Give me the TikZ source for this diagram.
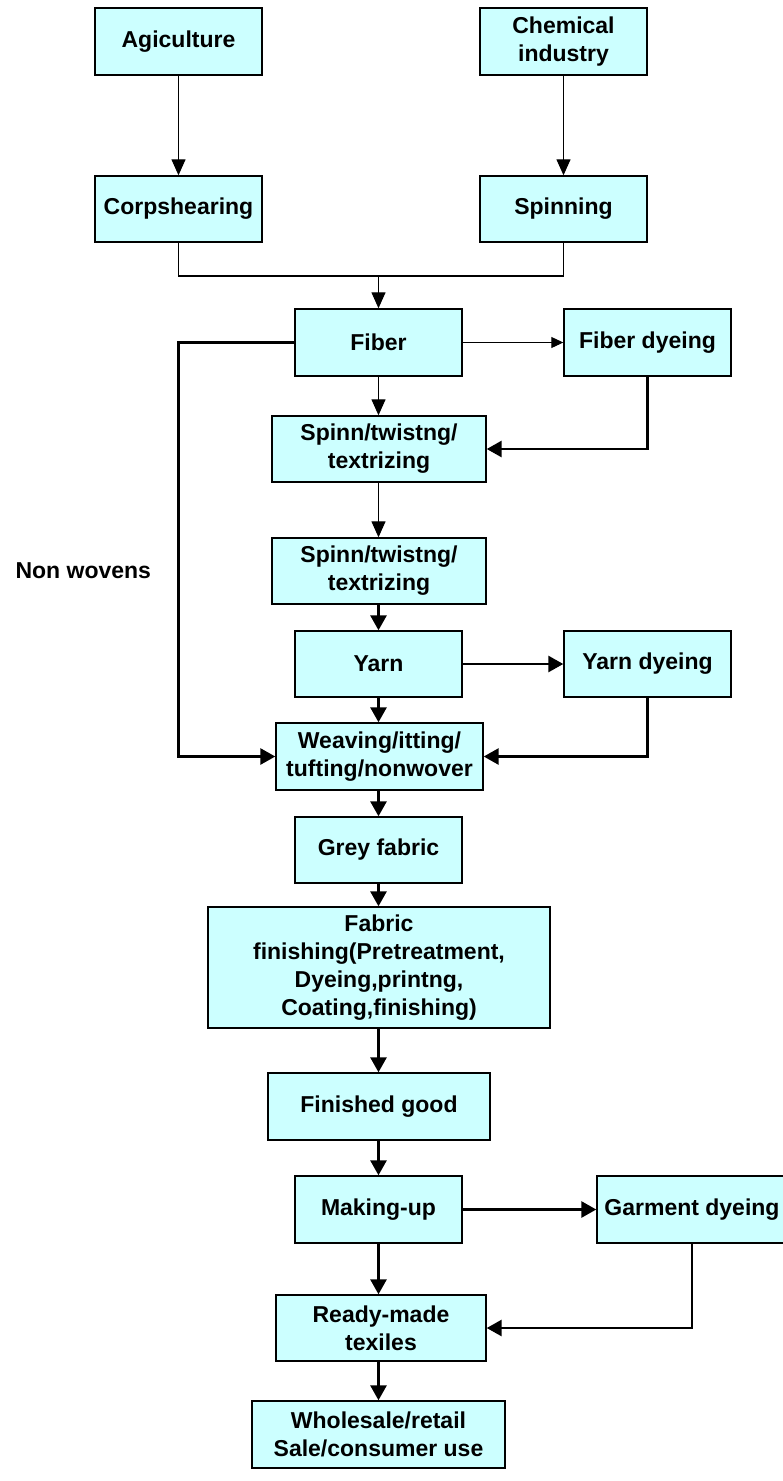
\documentclass[tikz,border=0pt]{standalone}
\usepackage{fontspec}
\setmainfont{Liberation Sans}
\usetikzlibrary{arrows.meta}
\definecolor{boxfill}{HTML}{CCFFFF}
\begin{document}
\begin{tikzpicture}[x=1pt,y=-1pt,
  box/.style={draw=black, line width=1.4pt, fill=boxfill, inner sep=0pt, align=center,
    font=\fontsize{23}{28}\selectfont\bfseries},
  lab/.style={font=\fontsize{23}{28}\selectfont\bfseries},
  thinln/.style={line width=1.3pt},
  thinarr/.style={line width=1.3pt, -{Triangle[length=16pt,width=14pt]}},
  smallarr/.style={line width=1pt, -{Triangle[length=12pt,width=11pt]}},
  thickln/.style={line width=2.8pt},
  thickarr/.style={line width=2.8pt, -{Triangle[length=15pt,width=16pt]}}
]
\useasboundingbox (0,0) rectangle (783,1481);

\node[box, minimum width=167pt, minimum height=67pt] (agri) at (178.5,41.5) {Agiculture};
\node[box, minimum width=167pt, minimum height=67pt] (chem) at (563.5,41.5) {Chemical\\industry};
\node[box, minimum width=167pt, minimum height=66pt] (corp) at (178.5,209) {Corpshearing};
\node[box, minimum width=167pt, minimum height=66pt] (spin) at (563.5,209) {Spinning};
\node[box, minimum width=167pt, minimum height=67pt] (fiber) at (378.5,342.5) {Fiber};
\node[box, minimum width=167pt, minimum height=67pt] (fdye) at (647.5,342.5) {Fiber dyeing};
\node[box, minimum width=214pt, minimum height=66pt] (spa) at (379,449) {Spinn/twistng/\\textrizing};
\node[box, minimum width=214pt, minimum height=66pt] (spb) at (379,571) {Spinn/twistng/\\textrizing};
\node[box, minimum width=167pt, minimum height=66pt] (yarn) at (378.5,664) {Yarn};
\node[box, minimum width=167pt, minimum height=66pt] (ydye) at (647.5,664) {Yarn dyeing};
\node[box, minimum width=207pt, minimum height=67pt] (weav) at (379.5,756.5) {Weaving/itting/\\tufting/nonwover};
\node[box, minimum width=167pt, minimum height=66pt] (grey) at (378.5,850) {Grey fabric};
\node[box, minimum width=342pt, minimum height=121pt] (ffin) at (379,967.5) {Fabric\\finishing(Pretreatment,\\Dyeing,printng,\\Coating,finishing)};
\node[box, minimum width=222pt, minimum height=67pt] (fgood) at (379,1106.5) {Finished good};
\node[box, minimum width=167pt, minimum height=67pt] (make) at (378.5,1209.5) {Making-up};
\node[box, minimum width=190pt, minimum height=67pt] (gdye) at (692,1209.5) {Garment dyeing};
\node[box, minimum width=210pt, minimum height=66pt] (ready) at (381,1328) {Ready-made\\texiles};
\node[box, minimum width=253pt, minimum height=67pt] (sale) at (378.5,1434.5) {Wholesale/retail\\Sale/consumer use};

\node[lab, anchor=west] (nw) at (12,571) {Non wovens};

% top part
\draw[thinarr] (agri.south) -- (corp.north);
\draw[thinarr] (chem.south) -- (spin.north);
\coordinate (mj) at (378.5,276);
\draw[thinln] (corp.south) |- (mj) -| (spin.south);
\draw[thinarr] (mj) -- (fiber.north);

% fiber
\draw[smallarr] (fiber.east) -- (fdye.west);
\draw[thinarr] (fiber.south) -- (fiber.south |- spa.north);
\draw[thickarr] (fdye.south) |- (spa.east);
\draw[thinarr] (spa.south -| fiber.south) -- (spb.north -| fiber.south);
\draw[thickarr] (spb.south -| yarn.south) -- (yarn.north);

% yarn
\draw[thickarr] (yarn.east) -- (ydye.west);
\draw[thickarr] (yarn.south) -- (yarn.south |- weav.north);
\draw[thickarr] (ydye.south) |- (weav.east);
\coordinate (nwx) at (178.5,342.5);
\draw[thickarr] (fiber.west) -- (nwx) |- (weav.west);

% lower chain
\draw[thickarr] (weav.south -| grey.north) -- (grey.north);
\draw[thickarr] (grey.south) -- (grey.south |- ffin.north);
\draw[thickarr] (ffin.south -| grey.south) -- (fgood.north -| grey.south);
\draw[thickarr] (fgood.south -| make.north) -- (make.north);
\draw[thickarr] (make.east) -- (gdye.west);
\draw[thickarr] (make.south) -- (make.south |- ready.north);
\draw[thickarr] (gdye.south) |- (ready.east);
\draw[thickarr] (ready.south -| sale.north) -- (sale.north);
\end{tikzpicture}
\end{document}
